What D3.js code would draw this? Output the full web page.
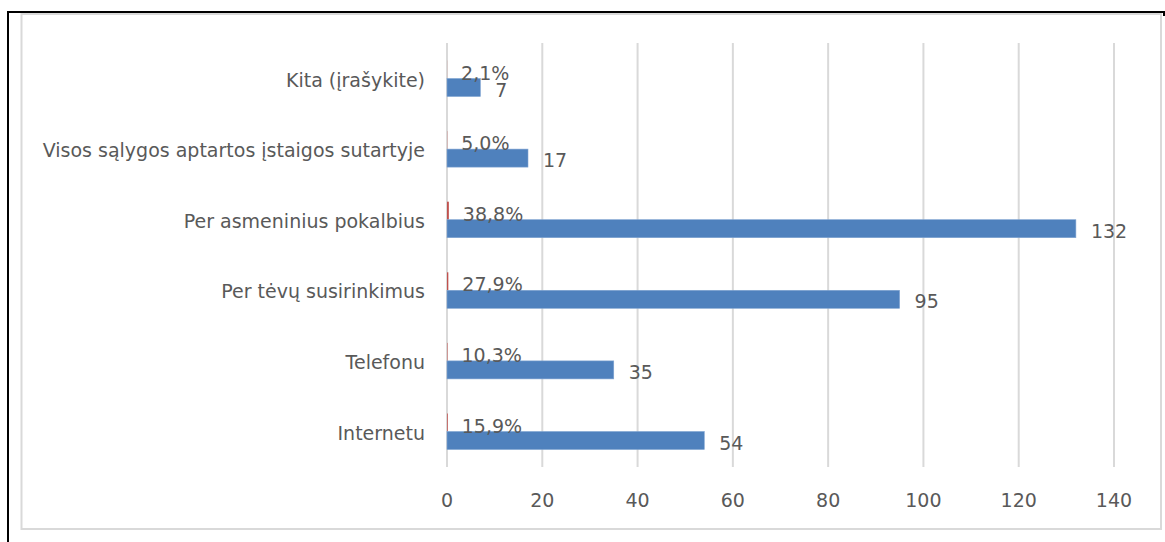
<!DOCTYPE html>
<html>
<head>
<meta charset="utf-8">
<script src="https://cdn.jsdelivr.net/npm/d3@7"></script>
<style>
  body { margin: 0; background: #fff; }
  text { font-family: "DejaVu Sans", sans-serif; fill: #595959; font-size: 19px; }
</style>
</head>
<body>
<svg width="1165" height="542"></svg>
<script>
var categories = ["Kita (įrašykite)", "Visos sąlygos aptartos įstaigos sutartyje", "Per asmeninius pokalbius",
                  "Per tėvų susirinkimus", "Telefonu", "Internetu"];
var counts = [7, 17, 132, 95, 35, 54];
var shares = [2.1, 5.0, 38.8, 27.9, 10.3, 15.9];
var ticks = [0, 20, 40, 60, 80, 100, 120, 140];

var svg = d3.select("svg");

// outer frame (black) and chart area border (grey)
svg.append("path").attr("d", "M8,542V12H1164V16").attr("fill", "none")
  .attr("stroke", "#000").attr("stroke-width", 2);
svg.append("rect").attr("x", 21.5).attr("y", 14).attr("width", 1139.5).attr("height", 515)
  .attr("fill", "none").attr("stroke", "#d9d9d9").attr("stroke-width", 2);

var x = d3.scaleLinear().domain([0, 140]).range([447, 1114]);
var y = d3.scaleBand().domain(categories).range([43.2, 466.8]);
var sub = d3.scaleBand().domain(["pct", "cnt"]).range([0, 36]);
var off = (y.bandwidth() - 36) / 2;

// gridlines
svg.append("g").selectAll("line").data(ticks).join("line")
  .attr("x1", d => x(d)).attr("x2", d => x(d))
  .attr("y1", 43).attr("y2", 467)
  .attr("stroke", "#d9d9d9").attr("stroke-width", 2);

// tick labels
svg.append("g").selectAll("text").data(ticks).join("text")
  .attr("x", d => x(d)).attr("y", 500)
  .attr("text-anchor", "middle").attr("dominant-baseline", "central")
  .text(d => d);

// category labels
svg.append("g").selectAll("text").data(categories).join("text")
  .attr("x", 425).attr("y", d => y(d) + y.bandwidth() / 2 + 1)
  .attr("text-anchor", "end").attr("dominant-baseline", "central")
  .text(d => d);

var rows = categories.map((c, i) => ({ cat: c, cnt: counts[i], pct: shares[i] / 100 }));

// share bars (tiny, red)
svg.append("g").selectAll("rect").data(rows).join("rect")
  .attr("x", x(0)).attr("y", d => y(d.cat) + off + sub("pct"))
  .attr("width", d => x(d.pct) - x(0)).attr("height", sub.bandwidth())
  .attr("fill", "#C0504D");

// count bars
svg.append("g").selectAll("rect").data(rows).join("rect")
  .attr("x", x(0)).attr("y", d => y(d.cat) + off + sub("cnt"))
  .attr("width", d => x(d.cnt) - x(0)).attr("height", sub.bandwidth())
  .attr("fill", "#4F81BD").attr("stroke", "#7fa3d1").attr("stroke-width", 0.6);

// share labels
svg.append("g").selectAll("text").data(rows).join("text")
  .attr("x", d => x(d.pct) + 14)
  .attr("y", d => y(d.cat) + off + sub("pct") + sub.bandwidth() / 2 + 3)
  .attr("dominant-baseline", "central")
  .text((d, i) => shares[i].toFixed(1).replace(".", ",") + "%");

// count labels
svg.append("g").selectAll("text").data(rows).join("text")
  .attr("x", d => x(d.cnt) + 15)
  .attr("y", d => y(d.cat) + off + sub("cnt") + sub.bandwidth() / 2 + 2)
  .attr("dominant-baseline", "central")
  .text(d => d.cnt);
</script>
</body>
</html>
